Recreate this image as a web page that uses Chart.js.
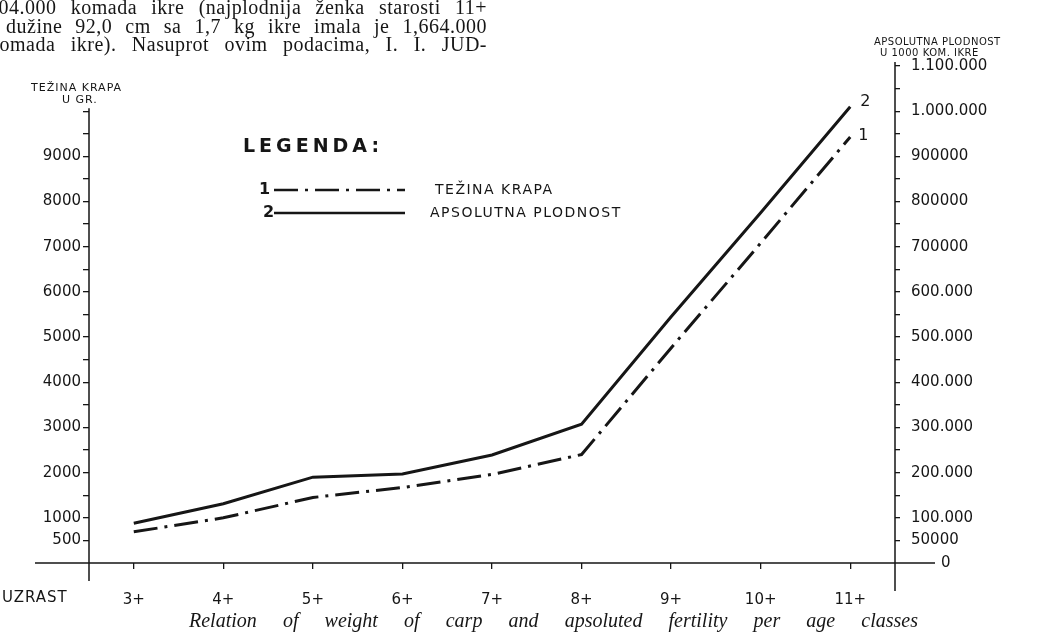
<!DOCTYPE html>
<html>
<head>
<meta charset="utf-8">
<script src="https://cdn.jsdelivr.net/npm/chart.js@4"></script>
<style>
  html, body { margin: 0; padding: 0; background: #fff; }
  #wrap { width: 1038px; height: 637px; position: relative; }
</style>
</head>
<body>
<div id="wrap"><canvas id="carpChart" width="1038" height="637"></canvas></div>
<script>
// age classes and the two curves
const ageClasses = ['3+', '4+', '5+', '6+', '7+', '8+', '9+', '10+', '11+'];
const weightGrams = [690, 1000, 1450, 1670, 1960, 2400, 4760, 7080, 9430];        // 1 - težina krapa
const fertilityEggs = [88000, 131000, 190000, 197000, 239000, 307000, 545000, 775000, 1010000]; // 2 - apsolutna plodnost

const seriesNames = ['TEŽINA KRAPA', 'APSOLUTNA PLODNOST'];

const leftTickValues = [500, 1000, 1500, 2000, 2500, 3000, 3500, 4000, 4500, 5000,
  5500, 6000, 6500, 7000, 7500, 8000, 8500, 9000, 9500, 10000];
const leftTickLabels = ['500', '1000', '', '2000', '', '3000', '', '4000', '', '5000',
  '', '6000', '', '7000', '', '8000', '', '9000', '', ''];

const rightTickValues = [50000, 100000, 150000, 200000, 250000, 300000, 350000, 400000,
  450000, 500000, 550000, 600000, 650000, 700000, 750000, 800000, 850000, 900000,
  950000, 1000000, 1050000, 1100000];
const rightTickLabels = ['50000', '100.000', '', '200.000', '', '300.000', '', '400.000',
  '', '500.000', '', '600.000', '', '700000', '', '800000', '', '900000',
  '', '1.000.000', '', '1.100.000'];

const textLines = [
  '604.000 komada ikre (najplodnija ženka starosti 11+',
  'dužine 92,0 cm sa 1,7 kg ikre imala je 1,664.000',
  'komada ikre). Nasuprot ovim podacima, I. I. JUD-'
];
const caption = 'Relation of weight of carp and apsoluted fertility per age classes';

const ink = '#161616';
const hand = '"DejaVu Sans", sans-serif';

// spread words of a line over a given width, like the printed page
function drawJustified(ctx, text, x, y, width) {
  const words = text.split(' ');
  let total = 0;
  words.forEach(w => total += ctx.measureText(w).width);
  const gap = (width - total) / (words.length - 1);
  let cx = x;
  words.forEach(w => {
    ctx.fillText(w, cx, y);
    cx += ctx.measureText(w).width + gap;
  });
}

const paperPlugin = {
  id: 'paper',
  afterDraw(chart) {
    const ctx = chart.ctx;
    const area = chart.chartArea;
    const yL = chart.scales.y;
    const yR = chart.scales.y1;
    ctx.save();
    ctx.strokeStyle = ink;
    ctx.fillStyle = ink;

    // hand drawn axes, running past the plot like on the scan
    ctx.lineWidth = 1.5;
    ctx.beginPath();
    ctx.moveTo(area.left, yL.getPixelForValue(10000) - 3);
    ctx.lineTo(area.left, area.bottom + 18);
    ctx.moveTo(area.right, yR.getPixelForValue(1100000) - 4);
    ctx.lineTo(area.right, area.bottom + 28);
    ctx.moveTo(area.left - 54, area.bottom);
    ctx.lineTo(area.right + 40, area.bottom);
    ctx.stroke();

    ctx.font = '15px ' + hand;
    ctx.textBaseline = 'middle';
    ctx.textAlign = 'left';
    ctx.fillText('0', area.right + 46, area.bottom);

    // axis titles
    ctx.letterSpacing = '1px';
    ctx.font = '11px ' + hand;
    ctx.fillText('TEŽINA KRAPA', 31, 88);
    ctx.fillText('U GR.', 62, 100);
    ctx.font = '10px ' + hand;
    ctx.letterSpacing = '0.5px';
    ctx.fillText('APSOLUTNA PLODNOST', 874, 42);
    ctx.fillText('U 1000 KOM. IKRE', 880, 53);
    ctx.letterSpacing = '1px';
    ctx.font = '15px ' + hand;
    ctx.fillText('UZRAST', 2, 598);

    // numbers at the ends of the curves
    ctx.letterSpacing = '0px';
    ctx.font = '16px ' + hand;
    const end1 = chart.getDatasetMeta(0).data[ageClasses.length - 1];
    const end2 = chart.getDatasetMeta(1).data[ageClasses.length - 1];
    ctx.fillText('1', end1.x + 8, end1.y - 1);
    ctx.fillText('2', end2.x + 10, end2.y - 5);

    // legend
    ctx.letterSpacing = '4px';
    ctx.font = 'bold 19px ' + hand;
    ctx.fillText('LEGENDA:', 243, 147);
    ctx.letterSpacing = '0px';
    ctx.font = 'bold 16px ' + hand;
    ctx.fillText('1', 259, 190);
    ctx.fillText('2', 263, 213);
    chart.data.datasets.forEach((ds, i) => {
      const ly = i === 0 ? 190 : 213;
      ctx.lineWidth = 2.5;
      ctx.setLineDash(ds.borderDash || []);
      ctx.beginPath();
      ctx.moveTo(274, ly);
      ctx.lineTo(405, ly);
      ctx.stroke();
      ctx.setLineDash([]);
      ctx.letterSpacing = '1.5px';
      ctx.font = '14px ' + hand;
      ctx.fillText(ds.label, i === 0 ? 435 : 430, ly);
      ctx.letterSpacing = '0px';
    });

    // printed text above the figure
    ctx.textBaseline = 'alphabetic';
    ctx.letterSpacing = '0.5px';
    ctx.font = '20px "Liberation Serif", serif';
    drawJustified(ctx, textLines[0], -12, 14, 499);
    drawJustified(ctx, textLines[1], 6, 33, 481);
    drawJustified(ctx, textLines[2], -11, 51, 498);
    ctx.letterSpacing = '0px';

    // caption
    ctx.font = 'italic 20px "Liberation Serif", serif';
    drawJustified(ctx, caption, 189, 627, 729);
    ctx.restore();
  }
};

const ctx = document.getElementById('carpChart').getContext('2d');
new Chart(ctx, {
  type: 'line',
  data: {
    labels: ageClasses,
    datasets: [{
      label: seriesNames[0],
      data: weightGrams,
      yAxisID: 'y',
      borderColor: ink,
      borderWidth: 3,
      borderDash: [24, 7, 3, 7],
      pointRadius: 0,
      tension: 0,
      fill: false
    }, {
      label: seriesNames[1],
      data: fertilityEggs,
      yAxisID: 'y1',
      borderColor: ink,
      borderWidth: 3,
      pointRadius: 0,
      tension: 0,
      fill: false
    }]
  },
  options: {
    responsive: false,
    animation: false,
    layout: { padding: { top: 66, left: 0, right: 0, bottom: 0 } },
    plugins: {
      legend: { display: false },
      tooltip: { enabled: false }
    },
    scales: {
      x: {
        offset: true,
        border: { display: false },
        grid: { drawOnChartArea: false, tickLength: 6, color: ink, lineWidth: 1.3 },
        ticks: { color: ink, font: { family: hand, size: 15 }, padding: 22, maxRotation: 0 },
        afterFit(scale) { scale.height = 74; }
      },
      y: {
        position: 'left',
        min: 0,
        max: 11000,
        border: { display: false },
        grid: { drawOnChartArea: false, tickLength: 6, color: ink, lineWidth: 1.3 },
        afterBuildTicks(scale) { scale.ticks = leftTickValues.map(v => ({ value: v })); },
        ticks: {
          autoSkip: false,
          color: ink,
          font: { family: hand, size: 15 },
          padding: 2,
          callback: v => leftTickLabels[leftTickValues.indexOf(v)] || ''
        },
        afterFit(scale) { scale.width = 89; }
      },
      y1: {
        position: 'right',
        min: 0,
        max: 1100000,
        border: { display: false },
        grid: { drawOnChartArea: false, tickLength: 5, color: ink, lineWidth: 1.3 },
        afterBuildTicks(scale) { scale.ticks = rightTickValues.map(v => ({ value: v })); },
        ticks: {
          autoSkip: false,
          color: ink,
          font: { family: hand, size: 15 },
          padding: 11,
          callback: v => rightTickLabels[rightTickValues.indexOf(v)] || ''
        },
        afterFit(scale) { scale.width = 143; }
      }
    }
  },
  plugins: [paperPlugin]
});
</script>
</body>
</html>
